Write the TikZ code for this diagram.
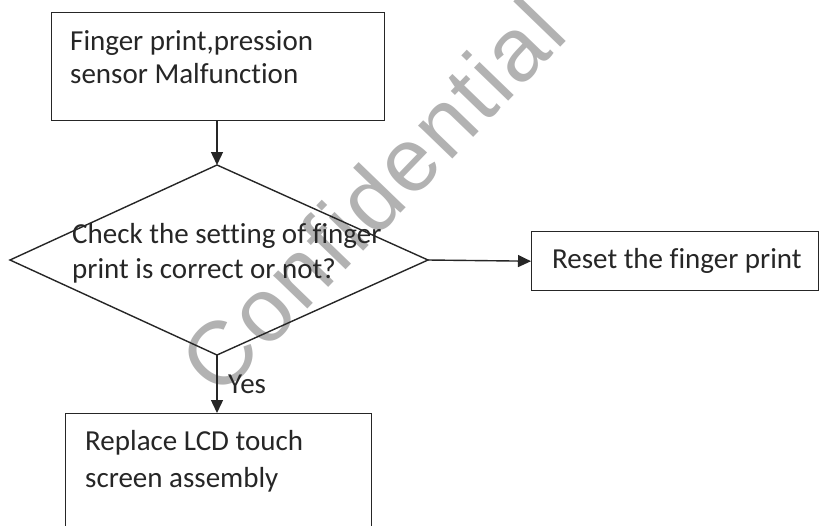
\documentclass[tikz,border=0pt]{standalone}
\usepackage{fontspec}
\setmainfont{Carlito}[Ligatures=NoCommon]
\newfontfamily\wmfont{Liberation Sans}[LetterSpace=3]
\usetikzlibrary{arrows.meta}
\begin{document}
\begin{tikzpicture}[x=1pt,y=-1pt,
  box/.style={draw=black!85, line width=1.4pt, inner sep=0pt},
  lbl/.style={inner sep=0pt, align=left, text=black!85, anchor=base west},
  arr/.style={draw=black!85, line width=1.4pt, -{Triangle[length=13pt,width=12pt]}},
  wmark/.style={text=black!30, font=\wmfont\fontsize{90}{90}\selectfont, inner sep=0pt}]
\useasboundingbox (0,0) rectangle (827,525);
\fill[white] (0,0) rectangle (827,525);
\clip (0,0) rectangle (827,525);
% watermark
\node[wmark, rotate=46] (wm) at (372,196) {Confidential};
% top box
\node[box, minimum width=333, minimum height=108, anchor=north west] (b1) at (51,12) {};
\node[lbl, font=\fontsize{29}{33}\selectfont] (t1) at (70,83) {Finger print,pression\\sensor Malfunction};
% decision diamond
\coordinate (dt) at (217,165);
\coordinate (dr) at (428,260);
\coordinate (db) at (217,355);
\coordinate (dl) at (10,260);
\draw[draw=black!85, line width=1.4pt, line join=miter] (dt) -- (dr) -- (db) -- (dl) -- cycle;
\node[lbl, font=\fontsize{29}{35}\selectfont] (t2) at (72,278) {Check the setting of finger\\print is correct or not?};
% right box
\node[box, minimum width=287, minimum height=59, anchor=north west] (b2) at (531,231) {};
\node[lbl, font=\fontsize{29}{35}\selectfont] (t3) at (552,268) {Reset the finger print};
% bottom box
\node[box, minimum width=306, minimum height=140, anchor=north west] (b3) at (65,413) {};
\node[lbl, font=\fontsize{29}{37}\selectfont] (t4) at (85,487) {Replace LCD touch\\screen assembly};
% connectors
\draw[arr] (b1.south -| dt) -- (dt);
\draw[arr] (dr) -- (b2.west);
\draw[arr] (db) -- (b3.north -| db);
\node[lbl, font=\fontsize{29}{35}\selectfont] (yes) at (228,393) {Yes};
\end{tikzpicture}
\end{document}
